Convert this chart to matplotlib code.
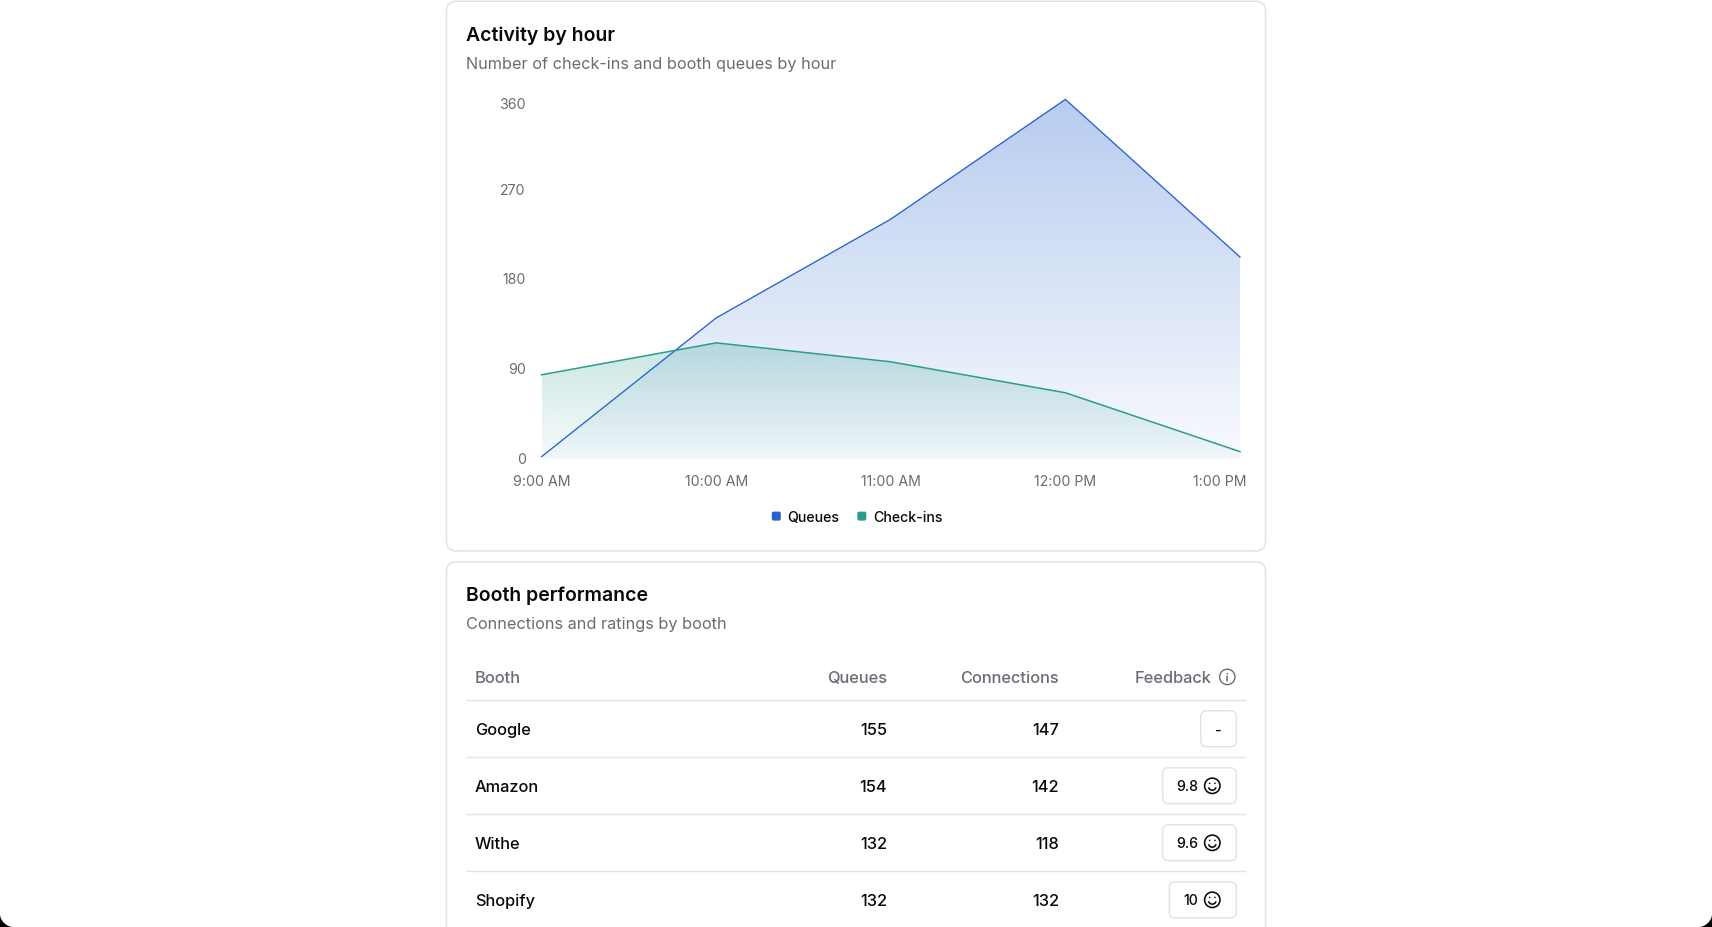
import numpy as np
import matplotlib
matplotlib.use("Agg")
import matplotlib.pyplot as plt
from matplotlib.patches import FancyBboxPatch, Polygon, Circle, Arc, PathPatch
from matplotlib.path import Path
from matplotlib.transforms import ScaledTranslation

plt.rcParams['font.family'] = ['Inter', 'DejaVu Sans']

hours = ["9:00 AM", "10:00 AM", "11:00 AM", "12:00 PM", "1:00 PM"]
queues = [2, 141, 240, 360, 202]
checkins = [84, 116, 97, 66, 7]
y_ticks = [0, 90, 180, 270, 360]
series_names = ["Queues", "Check-ins"]

booths = ["Google", "Amazon", "Withe", "Shopify"]
booth_queues = [155, 154, 132, 132]
booth_connections = [147, 142, 118, 132]
booth_feedback = ["-", "9.8", "9.6", "10"]
columns = ["Booth", "Queues", "Connections", "Feedback"]

BLUE = "#2563cf"
GREEN = "#2a9d8f"
GREY = "#6b6b76"
INK = "#09090b"
BORDER = "#e4e4e7"
W, H = 1712, 928
DPI = 100

fig = plt.figure(figsize=(W / DPI, H / DPI), dpi=DPI, facecolor="white")
bg = fig.add_axes([0, 0, 1, 1], zorder=0)
bg.set_xlim(0, W)
bg.set_ylim(H, 0)
bg.axis("off")


def card(x0, y0, x1, y1):
    bg.add_patch(FancyBboxPatch((x0, y0), x1 - x0, y1 - y0,
                                boxstyle="round,pad=0,rounding_size=10",
                                fc="white", ec=BORDER, lw=1.1))


def corner(xc, xe):
    r = 13
    verts = [(xe, H - r), (xe, H - 0.45 * r), (xe + 0.55 * r * np.sign(xc - xe), H), (xc, H), (xe, H), (xe, H - r)]
    codes = [Path.MOVETO, Path.CURVE4, Path.CURVE4, Path.CURVE4, Path.LINETO, Path.CLOSEPOLY]
    bg.add_patch(PathPatch(Path(verts, codes), fc="black", ec="none"))


corner(13, 0)
corner(W - 13, W)

card(446.5, 2.2, 1265.5, 552)
card(446.5, 562.8, 1265.5, 960)

bg.text(466, 34, "Activity by hour", fontsize=14.0, weight=600, color=INK, va="center_baseline")
bg.text(466, 63.5, "Number of check-ins and booth queues by hour", fontsize=11.7, color=GREY, va="center_baseline")
bg.text(466, 594, "Booth performance", fontsize=14.0, weight=600, color=INK, va="center_baseline")
bg.text(466, 623.5, "Connections and ratings by booth", fontsize=11.7, color=GREY, va="center_baseline")

# Chart
AX_L, AX_R, AX_T, AX_B = 541.6, 1240.0, 100.4, 459.6
ax = fig.add_axes([AX_L / W, 1 - AX_B / H, (AX_R - AX_L) / W, (AX_B - AX_T) / H], zorder=2)
ax.patch.set_alpha(0)
xs = np.arange(len(hours))
for s in ax.spines.values():
    s.set_visible(False)


def gradient_area(values, color, a_top, a_bottom):
    rgb = matplotlib.colors.to_rgb(color)
    top = max(values)
    alpha = np.linspace(a_top, a_bottom, 256)[:, None]
    img = np.dstack([np.full_like(alpha, c) for c in rgb] + [alpha])
    im = ax.imshow(img, extent=(xs[0], xs[-1], 0, top), origin="upper", aspect="auto",
                   interpolation="bilinear", zorder=1)
    poly = Polygon(np.r_[[[xs[0], 0]], np.c_[xs, values], [[xs[-1], 0]]], closed=True,
                   transform=ax.transData, fc="none", ec="none")
    ax.add_patch(poly)
    im.set_clip_path(poly)


gradient_area(queues, BLUE, 0.33, 0.03)
ax.plot(xs, queues, color=BLUE, lw=0.95, zorder=2, clip_on=False, solid_joinstyle="miter")
gradient_area(checkins, GREEN, 0.25, 0.04)
ax.plot(xs, checkins, color=GREEN, lw=1.1, zorder=3, clip_on=False, solid_joinstyle="miter")
ax.set_xlim(xs[0], xs[-1])
ax.set_ylim(0, 360)

ax.set_xticks(xs, hours)
ax.set_yticks(y_ticks, [str(v) for v in y_ticks])
ax.tick_params(axis="both", length=0, labelsize=10.2, labelcolor=GREY)
ax.tick_params(axis="x", pad=11)
ax.tick_params(axis="y", pad=11.5)
last_x = ax.get_xticklabels()[-1]
last_x.set_transform(last_x.get_transform() + ScaledTranslation(-20.5 / DPI, 0, fig.dpi_scale_trans))
for i, lab in enumerate(ax.get_yticklabels()):
    dy = -4.3 + 1 if i == len(y_ticks) - 1 else 1
    lab.set_transform(lab.get_transform() + ScaledTranslation(0, dy / DPI, fig.dpi_scale_trans))

# Legend
LEG_Y = 516.6
for name, color, sq_x, txt_x in zip(series_names, [BLUE, GREEN], [776.3, 861.8], [787.0, 872.8]):
    bg.add_patch(FancyBboxPatch((sq_x - 4.5, LEG_Y - 4.0), 9, 9,
                                boxstyle="round,pad=0,rounding_size=1.8", fc=color, ec="none"))
    bg.text(txt_x, LEG_Y, name, fontsize=10.2, weight=500, color=INK, va="center_baseline")

# Table
LINE_L, LINE_R = 466, 1246
TXT_L, COL_Q, COL_C, COL_F = 474.8, 886.9, 1059.2, 1211.5
HEAD_Y = 677
ROW_Y = [729, 786, 843, 900]
RULES = [701.2, 758.1, 815.1, 872.1]
for y in RULES:
    bg.plot([LINE_L, LINE_R], [y, y], color=BORDER, lw=1.0, solid_capstyle="butt")
for label, x, ha in zip(columns, [TXT_L, COL_Q, COL_C, COL_F], ["left", "right", "right", "right"]):
    bg.text(x, HEAD_Y, label, fontsize=11.8, weight=500, color=GREY, ha=ha, va="center_baseline")


def smiley(cx, cy, r=7.7, color=INK, lw=1.15):
    bg.add_patch(Circle((cx, cy), r, fc="none", ec=color, lw=lw))
    bg.add_patch(Arc((cx, cy + 0.5), r * 1.0, r * 1.0, theta1=15, theta2=165, ec=color, lw=lw))
    for dx in (-2.7, 2.7):
        bg.add_patch(Circle((cx + dx, cy - 2.4), 0.8, fc=color, ec="none"))


# info icon
bg.add_patch(Circle((1227.3, 677.9), 7.7, fc="none", ec=GREY, lw=1.0))
bg.add_patch(Circle((1227.3, 674.6), 0.8, fc=GREY, ec="none"))
bg.plot([1227.3, 1227.3], [677.4, 681.9], color=GREY, lw=1.1, solid_capstyle="round")

BADGE_R = 1236.3
for name, q, c, fb, y in zip(booths, booth_queues, booth_connections, booth_feedback, ROW_Y):
    bg.text(TXT_L, y, name, fontsize=11.8, weight=500, color=INK, va="center_baseline")
    bg.text(COL_Q, y, str(q), fontsize=11.8, weight=500, color=INK, ha="right", va="center_baseline")
    bg.text(COL_C, y, str(c), fontsize=11.8, weight=500, color=INK, ha="right", va="center_baseline")
    if fb == "-":
        x0 = 1200.7
    elif len(fb) == 2:
        x0 = 1169.3
    else:
        x0 = 1162.7
    yb = y + 0.8
    bg.add_patch(FancyBboxPatch((x0, yb - 18), BADGE_R - x0, 36,
                                boxstyle="round,pad=0,rounding_size=6",
                                fc="white", ec=BORDER, lw=1.1))
    if fb == "-":
        bg.text((x0 + BADGE_R) / 2, y, fb, fontsize=10.2, weight=500, color=INK, ha="center", va="center_baseline")
    else:
        bg.text(1198.3, y, fb, fontsize=10.2, weight=500, color=INK, ha="right", va="center_baseline")
        smiley(1212.3, yb)

fig.savefig("out.png", dpi=DPI, facecolor="white")
